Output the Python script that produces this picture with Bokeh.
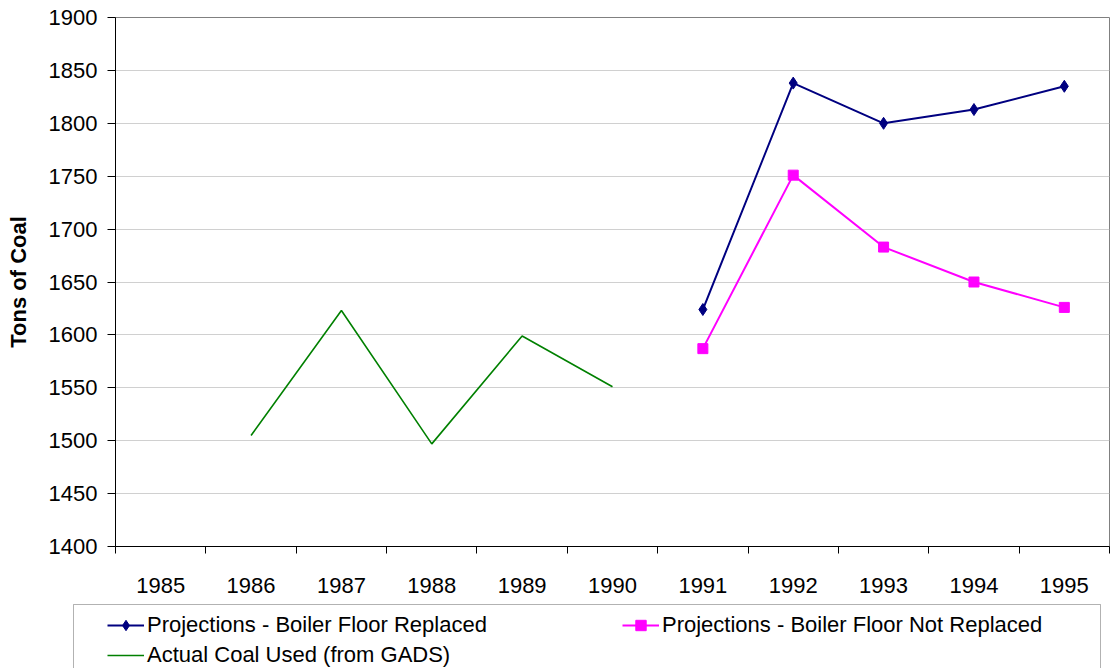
from bokeh.plotting import figure
from bokeh.models import Range1d, FixedTicker, Legend, LegendItem, BoxAnnotation
from bokeh.embed import file_html
from bokeh.resources import INLINE

# ---- data ----
years = ["1985", "1986", "1987", "1988", "1989", "1990",
         "1991", "1992", "1993", "1994", "1995"]
actual_years = ["1986", "1987", "1988", "1989", "1990"]
actual_coal = [1505, 1623, 1497, 1599, 1551]
proj_years = ["1991", "1992", "1993", "1994", "1995"]
replaced = [1624, 1838, 1800, 1813, 1835]
not_replaced = [1587, 1751, 1683, 1650, 1626]
y_ticks = [1400, 1450, 1500, 1550, 1600, 1650, 1700, 1750, 1800, 1850, 1900]

label_replaced = "Projections - Boiler Floor Replaced"
label_not_replaced = "Projections - Boiler Floor Not Replaced"
label_actual = "Actual Coal Used (from GADS)"

FONT = "Liberation Sans"
W = 1111
H_MAIN = 598
H_LEG = 70

# styles
st_rep_line = dict(line_color="#000080", line_width=2)
st_rep_mark = dict(marker="diamond", size=12, fill_color="#000080", line_color="#000080")
st_not_line = dict(line_color="#FF00FF", line_width=2)
st_not_mark = dict(marker="square", size=10, fill_color="#FF00FF", line_color="#FF00FF")
st_act_line = dict(line_color="#008000", line_width=1.6)

p = figure(width=W, height=H_MAIN, output_backend="svg", toolbar_location=None,
           x_range=Range1d(-0.5, len(years) - 0.5),
           y_range=Range1d(y_ticks[0], y_ticks[-1]),
           min_border_left=115, min_border_right=2, min_border_top=17,
           min_border_bottom=H_MAIN - 546)
p.outline_line_color = "#808080"
p.background_fill_color = "white"
p.border_fill_color = "white"

# x axis: labels at category centres, tick marks at category boundaries
xticker = FixedTicker(ticks=list(range(len(years))),
                      minor_ticks=[i - 0.5 for i in range(len(years) + 1)])
p.xaxis.ticker = xticker
p.xaxis.major_label_overrides = {i: y for i, y in enumerate(years)}
p.xaxis.major_tick_out = 0
p.xaxis.major_tick_in = 0
p.xaxis.minor_tick_out = 7
p.xaxis.minor_tick_in = 0
p.xaxis.minor_tick_line_color = "black"
p.xaxis.axis_line_color = "black"
p.xaxis.major_label_standoff = 24
p.xaxis.major_label_text_font = FONT
p.xaxis.major_label_text_font_size = "22px"
p.xaxis.major_label_text_color = "black"
p.xgrid.visible = False

# y axis
p.yaxis.ticker = FixedTicker(ticks=y_ticks, minor_ticks=[])
p.yaxis.major_tick_out = 8
p.yaxis.major_tick_in = 0
p.yaxis.major_tick_line_color = "black"
p.yaxis.axis_line_color = "black"
p.yaxis.major_label_standoff = 10
p.yaxis.major_label_text_font = FONT
p.yaxis.major_label_text_font_size = "22px"
p.yaxis.major_label_text_color = "black"
p.yaxis.axis_label = "Tons of Coal"
p.yaxis.axis_label_text_font = FONT
p.yaxis.axis_label_text_font_size = "22px"
p.yaxis.axis_label_text_font_style = "bold"
p.yaxis.axis_label_text_color = "black"
p.yaxis.axis_label_standoff = 15
p.ygrid.ticker = FixedTicker(ticks=y_ticks)
p.ygrid.grid_line_color = "#d0d0d0"

# series
x_proj = [years.index(y) for y in proj_years]
x_act = [years.index(y) for y in actual_years]

p.line(x_proj, replaced, **st_rep_line)
p.scatter(x_proj, replaced, **st_rep_mark)
p.line(x_proj, not_replaced, **st_not_line)
p.scatter(x_proj, not_replaced, **st_not_mark)
p.line(x_act, actual_coal, **st_act_line)

# ---- legend strip below the chart (separate root, so its frame is not aligned) ----
q = figure(width=W, height=H_LEG, output_backend="svg", toolbar_location=None,
           x_range=Range1d(0, W), y_range=Range1d(0, H_LEG),
           x_axis_type=None, y_axis_type=None,
           min_border_left=0, min_border_right=0, min_border_top=0, min_border_bottom=0)
q.outline_line_color = None
q.background_fill_color = "white"
q.border_fill_color = "white"
q.grid.visible = False

# legend-key renderers: same series, which lie outside this strip's y range
k1 = q.line(x_proj, replaced, **st_rep_line)
k1m = q.scatter(x_proj, replaced, **st_rep_mark)
k2 = q.line(x_proj, not_replaced, **st_not_line)
k2m = q.scatter(x_proj, not_replaced, **st_not_mark)
k3 = q.line(x_act, actual_coal, **st_act_line)

q.add_layout(BoxAnnotation(left=73, right=1100, top=H_LEG - 6, bottom=-30,
                           fill_alpha=0, line_color="black", line_width=1))

common = dict(padding=4, spacing=4, glyph_width=37, glyph_height=26,
              label_standoff=3, margin=0,
              label_text_font=FONT, label_text_font_size="22px",
              label_text_color="black", orientation="vertical",
              border_line_alpha=0, background_fill_alpha=0.0)

leg1 = Legend(items=[LegendItem(label=label_replaced, renderers=[k1, k1m]),
                     LegendItem(label=label_actual, renderers=[k3])],
              location=(103, -4), **common)
leg2 = Legend(items=[LegendItem(label=label_not_replaced, renderers=[k2, k2m])],
              location=(618, 26), **common)
q.add_layout(leg1)
q.add_layout(leg2)

open("out.html", "w").write(file_html([p, q], INLINE))
